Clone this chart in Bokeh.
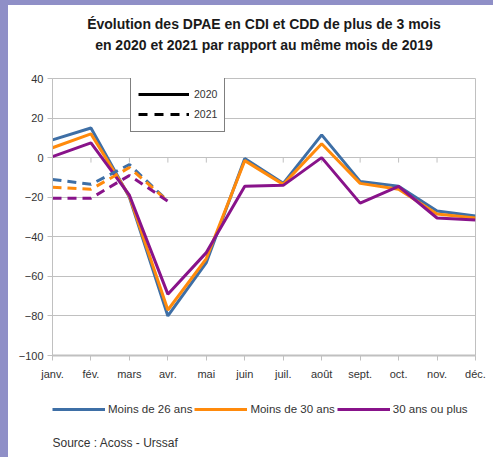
from bokeh.plotting import figure
from bokeh.models import (Range1d, ColumnDataSource, Legend, LegendItem, Title,
                          FixedTicker, Spacer, Label)
from bokeh.layouts import column, row
from bokeh.embed import file_html
from bokeh.resources import INLINE

months = ["janv.", "fév.", "mars", "avr.", "mai", "juin", "juil.", "août",
          "sept.", "oct.", "nov.", "déc."]
m26_2020 = [9, 15, -20, -80, -53, -0.5, -13, 11.5, -12, -14.5, -27, -29.5]
m30_2020 = [5, 12, -19.5, -77, -51, -1.5, -13.5, 7, -13, -16, -28.5, -30.5]
p30_2020 = [0.5, 7.5, -19, -69, -48, -14.5, -14, 0, -23, -14.5, -30.5, -31.5]
m26_2021 = [-11, -13.5, -3.5, -22]
m30_2021 = [-15, -16, -5, -22]
p30_2021 = [-20.5, -20.5, -9, -22]
y_ticks = [-100, -80, -60, -40, -20, 0, 20, 40]
series_names = ["Moins de 26 ans", "Moins de 30 ans", "30 ans ou plus"]

FONT = "Liberation Sans"
BLUE = "#3e6fa6"
ORANGE = "#ff8a0c"
PURPLE = "#88138a"
GREY = "#c0c0c0"
TXT = "#333333"
FRAME_COL = "#8f8fc7"

x_all = list(range(len(months)))

p = figure(frame_width=423, frame_height=277, output_backend="svg",
           toolbar_location=None,
           x_range=Range1d(0, len(months) - 1), y_range=Range1d(-100, 40),
           min_border_left=44, min_border_right=18, min_border_top=73,
           min_border_bottom=27, background_fill_color="white",
           border_fill_color="white", outline_line_color=GREY)

# axes
p.xaxis.ticker = FixedTicker(ticks=x_all)
p.xaxis.major_label_overrides = {i: m for i, m in enumerate(months)}
p.yaxis.ticker = FixedTicker(ticks=y_ticks)
for ax in (p.xaxis, p.yaxis):
    ax.axis_line_color = GREY
    ax.major_tick_line_color = GREY
    ax.minor_tick_line_color = None
    ax.major_tick_in = 0
    ax.major_tick_out = 5
    ax.major_label_text_font = FONT
    ax.major_label_text_font_size = "11px"
    ax.major_label_text_color = TXT
p.xaxis.axis_line_width = 2
p.yaxis.major_label_standoff = 4
p.xaxis.major_label_standoff = 7
p.xgrid.grid_line_color = None
p.ygrid.ticker = FixedTicker(ticks=y_ticks)
p.ygrid.grid_line_color = GREY

# ticks on the zero line
p.segment(x0=x_all[1:], y0=[0] * (len(x_all) - 1), x1=x_all[1:],
          y1=[-2.5] * (len(x_all) - 1), line_color=GREY, line_width=1)

x21 = x_all[:len(m26_2021)]
p.line(x_all, m26_2020, line_color=BLUE, line_width=3)
p.line(x_all, m30_2020, line_color=ORANGE, line_width=3)
p.line(x_all, p30_2020, line_color=PURPLE, line_width=3)
p.line(x21, m26_2021, line_color=BLUE, line_width=3, line_dash="9 6")
p.line(x21, m30_2021, line_color=ORANGE, line_width=3, line_dash="9 6")
p.line(x21, p30_2021, line_color=PURPLE, line_width=3, line_dash="9 6")

# legend for years (black key renderers that draw nothing in the plot)
nan = float("nan")
key_src = ColumnDataSource(data=dict(x=[nan], y=[nan]))
k20 = p.line("x", "y", source=key_src, line_color="black", line_width=3)
k21 = p.line("x", "y", source=key_src, line_color="black", line_width=3,
             line_dash="9 7")
leg_year = Legend(items=[LegendItem(label="2020", renderers=[k20]),
                         LegendItem(label="2021", renderers=[k21])],
                  location=(78, 223), orientation="vertical",
                  glyph_width=51, glyph_height=20, label_height=20,
                  label_standoff=5, padding=7, spacing=0, margin=0,
                  border_line_color="black", border_line_width=1,
                  background_fill_color="white", background_fill_alpha=1,
                  label_text_font=FONT, label_text_font_size="10.5px",
                  label_text_color=TXT)
p.add_layout(leg_year, "center")

# spacer between plot and title, then two title lines (outermost added last)
p.add_layout(Title(text=" ", text_font_size="1px", standoff=23), "above")
p.add_layout(Title(text="en 2020 et 2021 par rapport au même mois de 2019",
                   align="center", standoff=0, text_font=FONT,
                   text_font_size="14px", text_font_style="bold",
                   text_color="#1a1a1a"), "above")
p.add_layout(Title(text="Évolution des DPAE en CDI et CDD de plus de 3 mois",
                   align="center", standoff=6, text_font=FONT,
                   text_font_size="14px", text_font_style="bold",
                   text_color="#1a1a1a"), "above")

# lower strip: series legend and source (its frame lines up with the plot's)
q = figure(width=485, height=75, output_backend="svg", toolbar_location=None,
           x_range=Range1d(0, 1), y_range=Range1d(0, 1),
           x_axis_type=None, y_axis_type=None, min_border=0,
           outline_line_color=None, background_fill_color="white",
           border_fill_color="white")
q.xgrid.grid_line_color = None
q.ygrid.grid_line_color = None
items = []
for name, col in zip(series_names, [BLUE, ORANGE, PURPLE]):
    r = q.line("x", "y", source=ColumnDataSource(data=dict(x=[nan], y=[nan])),
               line_color=col, line_width=3)
    items.append(LegendItem(label=name, renderers=[r]))
leg_series = Legend(items=items, location=(0, 40), orientation="horizontal",
                    glyph_width=53, glyph_height=16, label_height=16,
                    label_standoff=3, padding=0, spacing=2, margin=0,
                    border_line_color=None, background_fill_alpha=0,
                    label_text_font=FONT, label_text_font_size="11.5px",
                    label_text_color=TXT)
q.add_layout(leg_series, "center")
q.add_layout(Label(x=0, y=15, x_units="screen", y_units="screen",
                   text="Source : Acoss - Urssaf", text_align="left",
                   text_baseline="middle", text_font=FONT,
                   text_font_size="12px", text_color=TXT))

top_band = Spacer(width=493, height=5, styles={"background-color": FRAME_COL})
left_band = Spacer(width=8, height=452, styles={"background-color": FRAME_COL})
page = column(top_band, row(left_band, column(p, q, spacing=0), spacing=0),
              spacing=0)

open("out.html", "w").write(file_html(page, INLINE))
